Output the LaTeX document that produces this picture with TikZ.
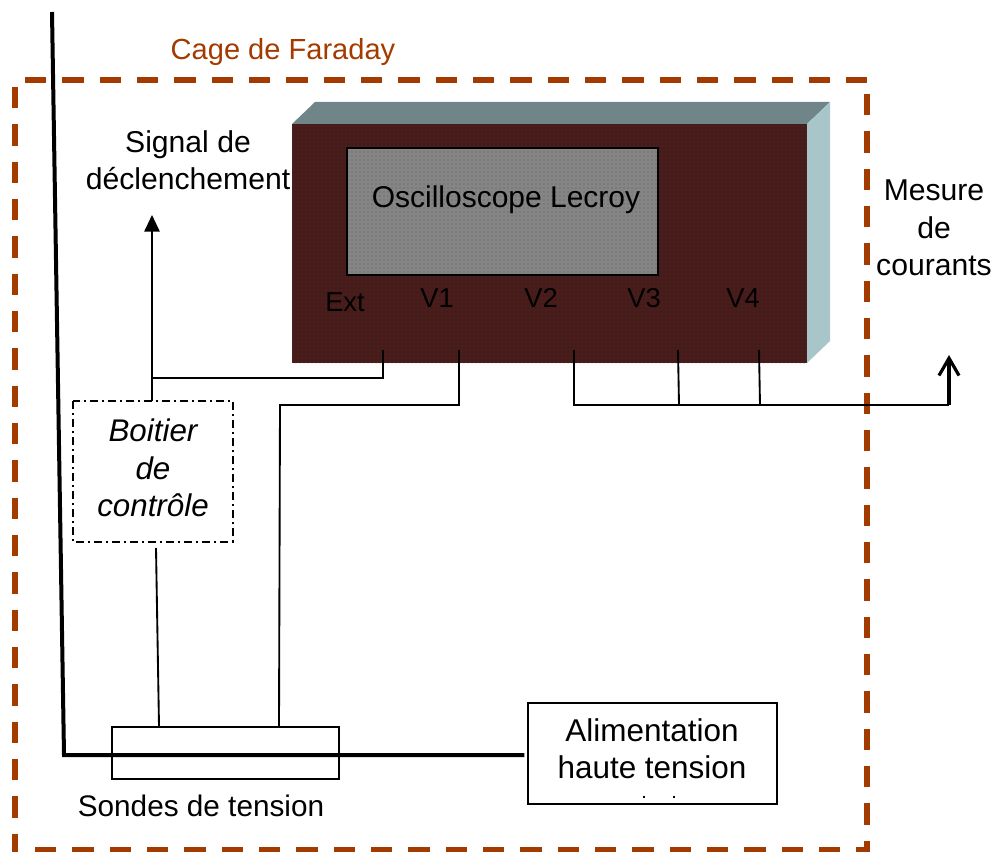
\documentclass[tikz,border=0pt]{standalone}
\usepackage{fontspec}
\setmainfont{Liberation Sans}
\usetikzlibrary{arrows.meta,patterns.meta}
\definecolor{cagecol}{HTML}{A33B00}
\definecolor{frontcol}{HTML}{4A1D1D}
\definecolor{screencol}{HTML}{858585}
\definecolor{topcol}{HTML}{6F8587}
\definecolor{sidecol}{HTML}{A8C6C9}
\tikzset{
  lbl/.style={inner sep=0pt,align=center,font=\fontsize{22.3}{28}\selectfont},
  lblsmall/.style={inner sep=0pt,font=\fontsize{20.5}{25}\selectfont},
  boxnode/.style={draw=black,line width=1.5pt,inner sep=0pt,anchor=north west},
  textured/.style={inner sep=0pt,anchor=north west,pattern={Dots[distance=3pt,radius=0.3pt]},pattern color=black},
  wire/.style={draw=black,line width=1.4pt},
  cage/.style={draw=cagecol,line width=3.8pt,dash pattern=on 16pt off 12pt},
  power/.style={draw=black,line width=3pt}
}
\begin{document}
\begin{tikzpicture}[x=0.75pt,y=-0.75pt]
\useasboundingbox (0,0) rectangle (1002,852);
% oscilloscope
\fill[topcol] (292,124) -- (315,102) -- (830,102) -- (807,124) -- cycle;
\fill[sidecol] (807,124) -- (830,102) -- (830,341) -- (807,363) -- cycle;
\node[textured,preaction={fill=frontcol},minimum width=386.25pt,minimum height=179.25pt] (osc) at (292,124) {};
\node[textured,draw=black,line width=1.5pt,preaction={fill=screencol},minimum width=233.25pt,minimum height=95.25pt] (screen) at (346,147) {};
\node[lbl,font=\fontsize{22.5}{28}\selectfont] (screentxt) at (506,200) {Oscilloscope Lecroy};
\node[lblsmall] (ext) at (345,302) {Ext};
\node[lblsmall] (v1) at (437,298) {V1};
\node[lblsmall] (v2) at (541,298) {V2};
\node[lblsmall] (v3) at (644,298) {V3};
\node[lblsmall] (v4) at (743,298) {V4};
% cage
\draw[cage] (25,80) -- (867,80);
\draw[cage] (867,94) -- (867,852);
\draw[cage] (35,850) -- (868,850);
\draw[cage] (15,87) -- (15,852);
\node[lbl,text=cagecol,font=\fontsize{21.8}{28}\selectfont] (cagetxt) at (283,52) {Cage de Faraday};
% boxes
\node[boxnode,draw=none,minimum width=118.5pt,minimum height=104pt] (boitier) at (73,401) {};
\draw[line width=1.3pt,dash pattern=on 6pt off 3pt on 1.5pt off 3pt] (boitier.north west) rectangle (boitier.south east);
\node[lbl,font=\fontsize{23.5}{28}\selectfont\itshape] (boitxt) at (153,468) {Boitier\\de\\contrôle};
\node[boxnode,minimum width=170.25pt,minimum height=39pt] (sondes) at (111,726) {};
\node[boxnode,minimum width=186.5pt,minimum height=75.5pt] (alim) at (527,702) {};
\node[lbl,font=\fontsize{23.6}{28}\selectfont] (alimtxt) at (652,749) {Alimentation\\haute tension};
\fill (alim.south west) ++(116,-7) rectangle ++(2,-1.5);
\fill (alim.south west) ++(146,-7) rectangle ++(2,-1.5);
% labels
\node[lbl,font=\fontsize{22.6}{28}\selectfont] (signal) at (188,160) {Signal de\\déclenchement};
\node[lbl,font=\fontsize{22.6}{28}\selectfont] (mesure) at (934,228) {Mesure\\de\\courants};
\node[lbl] (sondestxt) at (201,806) {Sondes de tension};
% power line
\coordinate (ptop) at (52,12);
\coordinate (pcorner) at (64,755);
\draw[power] (ptop) -- (pcorner) -- ([xshift=-2]alim.west |- pcorner);
% ports
\coordinate (pE) at (383,350);
\coordinate (p1) at (459,350);
\coordinate (p2) at (574,350);
\coordinate (p3) at (678,350);
\coordinate (p4) at (759,350);
\coordinate (trig) at (152,215);
\coordinate (meas) at (949,355);
\coordinate (bus) at (573,405);
\coordinate (busend) at (949,405);
\coordinate (j3) at (679,405);
\coordinate (j4) at (760,405);
% wires
\draw[wire] (pE) -- (383,378) -- (152,378);
\draw[wire,-{Triangle[width=11.5pt,length=12.5pt]}] (boitier.north -| 152,0) -- (trig);
\draw[wire] (p1) -- (459,405) -- (280,405) -- (sondes.north -| 279,0);
\draw[wire] (156,548) -- (sondes.north -| 159,0);
\draw[wire] (p2) -- (574,405);
\draw[wire] (p3) -- (j3);
\draw[wire] (p4) -- (j4);
\draw[wire] (bus) -- (busend);
\draw[line width=2.4pt,-{Straight Barb[width=15pt,length=13pt]}] (busend) -- (meas);
\end{tikzpicture}
\end{document}
